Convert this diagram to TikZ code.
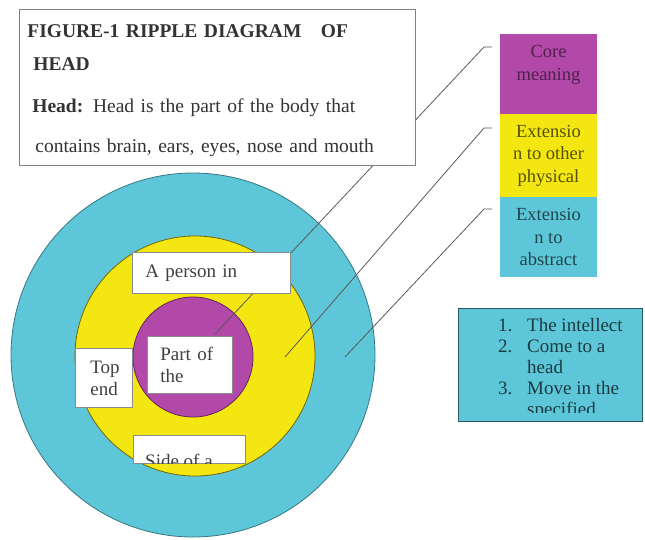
\documentclass[tikz,border=0pt]{standalone}
\usepackage{fontspec}
\setmainfont{Liberation Serif}
\usetikzlibrary{positioning}

\definecolor{ringcyan}{HTML}{5DC6D8}
\definecolor{ringyellow}{HTML}{F4E611}
\definecolor{ringmagenta}{HTML}{B248A8}

\begin{document}
\begin{tikzpicture}[x=1pt,y=-1pt]
    \tikzstyle{ring} = [circle, inner sep=0pt, line width=0.8pt]
    \tikzstyle{label box} = [draw=black!45, fill=white, line width=0.8pt, align=left, text=black!75, font=\fontsize{19}{22}\selectfont, inner ysep=0pt, anchor=north west]
    \tikzstyle{key box} = [minimum width=97pt, minimum height=80pt, inner sep=0pt, outer sep=0pt, align=center, font=\fontsize{18.5}{22.5}\selectfont]
    \tikzstyle{callout} = [draw=black!65, line width=0.8pt]

    \def\stubLength{8}

    \useasboundingbox (0,0) rectangle (645,539);

    % ripple rings
    \node[ring, draw=ringcyan!60!black, fill=ringcyan, minimum size=364pt] (outer) at (193,355) {};
    \node[ring, draw=ringyellow!45!black, fill=ringyellow, minimum size=240pt] (middle) at (195,356) {};
    \node[ring, draw=ringmagenta!55!black, fill=ringmagenta, minimum size=120pt] (inner) at (193,357) {};

    % key
    \node[key box, fill=ringmagenta, text=ringmagenta!45!black] (core) at (548.5,74) {Core\\meaning\\\mbox{}};
    \node[key box, fill=ringyellow, text=ringyellow!35!black, minimum height=83pt, below=0pt of core] (extphys) {Extensio\\n to other\\physical};
    \node[key box, fill=ringcyan, text=ringcyan!35!black, below=0pt of extphys] (extabs) {Extensio\\n to\\abstract};

    \coordinate (coretip) at (215,334);
    \coordinate (phystip) at (285,357);
    \coordinate (abstip) at (345,357);

    \path [callout] ([xshift=-8pt,yshift=-13pt]core.north west) -- ++(-\stubLength,0) -- (coretip);
    \path [callout] ([xshift=-8pt,yshift=-14pt]extphys.north west) -- ++(-\stubLength,0) -- (phystip);
    \path [callout] ([xshift=-8pt,yshift=-12pt]extabs.north west) -- ++(-\stubLength,0) -- (abstip);

    \node (title) [%
        draw=black!50,
        fill=white,
        line width=0.8pt,
        anchor=north west,
        align=left,
        text=black!80,
        text width=380pt,
        inner xsep=8pt,
        minimum height=156pt,
        font=\fontsize{19.5}{33}\selectfont
    ] at (19,9) {\rule{0pt}{20pt}\textbf{FIGURE-1 RIPPLE DIAGRAM\ \ \ OF}\\
        \hspace*{6pt}\textbf{HEAD}\\[9pt]
        \hspace*{5pt}\textbf{Head:} Head is the part of the body that\\[7pt]
        \hspace*{8pt}contains brain, ears, eyes, nose and mouth};

    % senses in the rings
    \node[label box, text width=132pt, inner xsep=13pt, minimum height=41pt] (person) at (132,252) {A person in};
    \node[label box, text width=59pt, inner xsep=13pt, minimum height=57pt] (partof) at (147,336) {Part of\\the};
    \node[label box, text width=27pt, inner xsep=15pt, minimum height=59pt] (topend) at (75,348) {Top\\end};
    \node[label box, minimum width=112pt, minimum height=28pt] (sideof) at (133,435) {};
    \begin{scope}
        \clip (sideof.south west) rectangle (sideof.north east);
        \node[anchor=base west, inner sep=0pt, text=black!75, font=\fontsize{19}{22}\selectfont] (sidetext) at (145,467) {Side of a};
    \end{scope}

    % abstract senses
    \node (senses) [%
        draw=ringcyan!45!black,
        fill=ringcyan,
        line width=0.8pt,
        anchor=north west,
        minimum width=184pt,
        minimum height=113pt,
        inner sep=0pt
    ] at (458,308) {};
    \begin{scope}
        \clip ([yshift=9pt]senses.south west) rectangle (senses.north east);
        \node (sensestext) [%
            anchor=north west,
            inner sep=0pt,
            align=left,
            text=ringcyan!30!black,
            font=\fontsize{19}{21}\selectfont
        ] at ([xshift=40pt,yshift=-10pt]senses.north west) {\makebox[29pt][l]{1.}The intellect\\
            \makebox[29pt][l]{2.}Come to a\\
            \hspace*{29pt}head\\
            \makebox[29pt][l]{3.}Move in the\\
            \hspace*{29pt}specified};
    \end{scope}
\end{tikzpicture}
\end{document}
